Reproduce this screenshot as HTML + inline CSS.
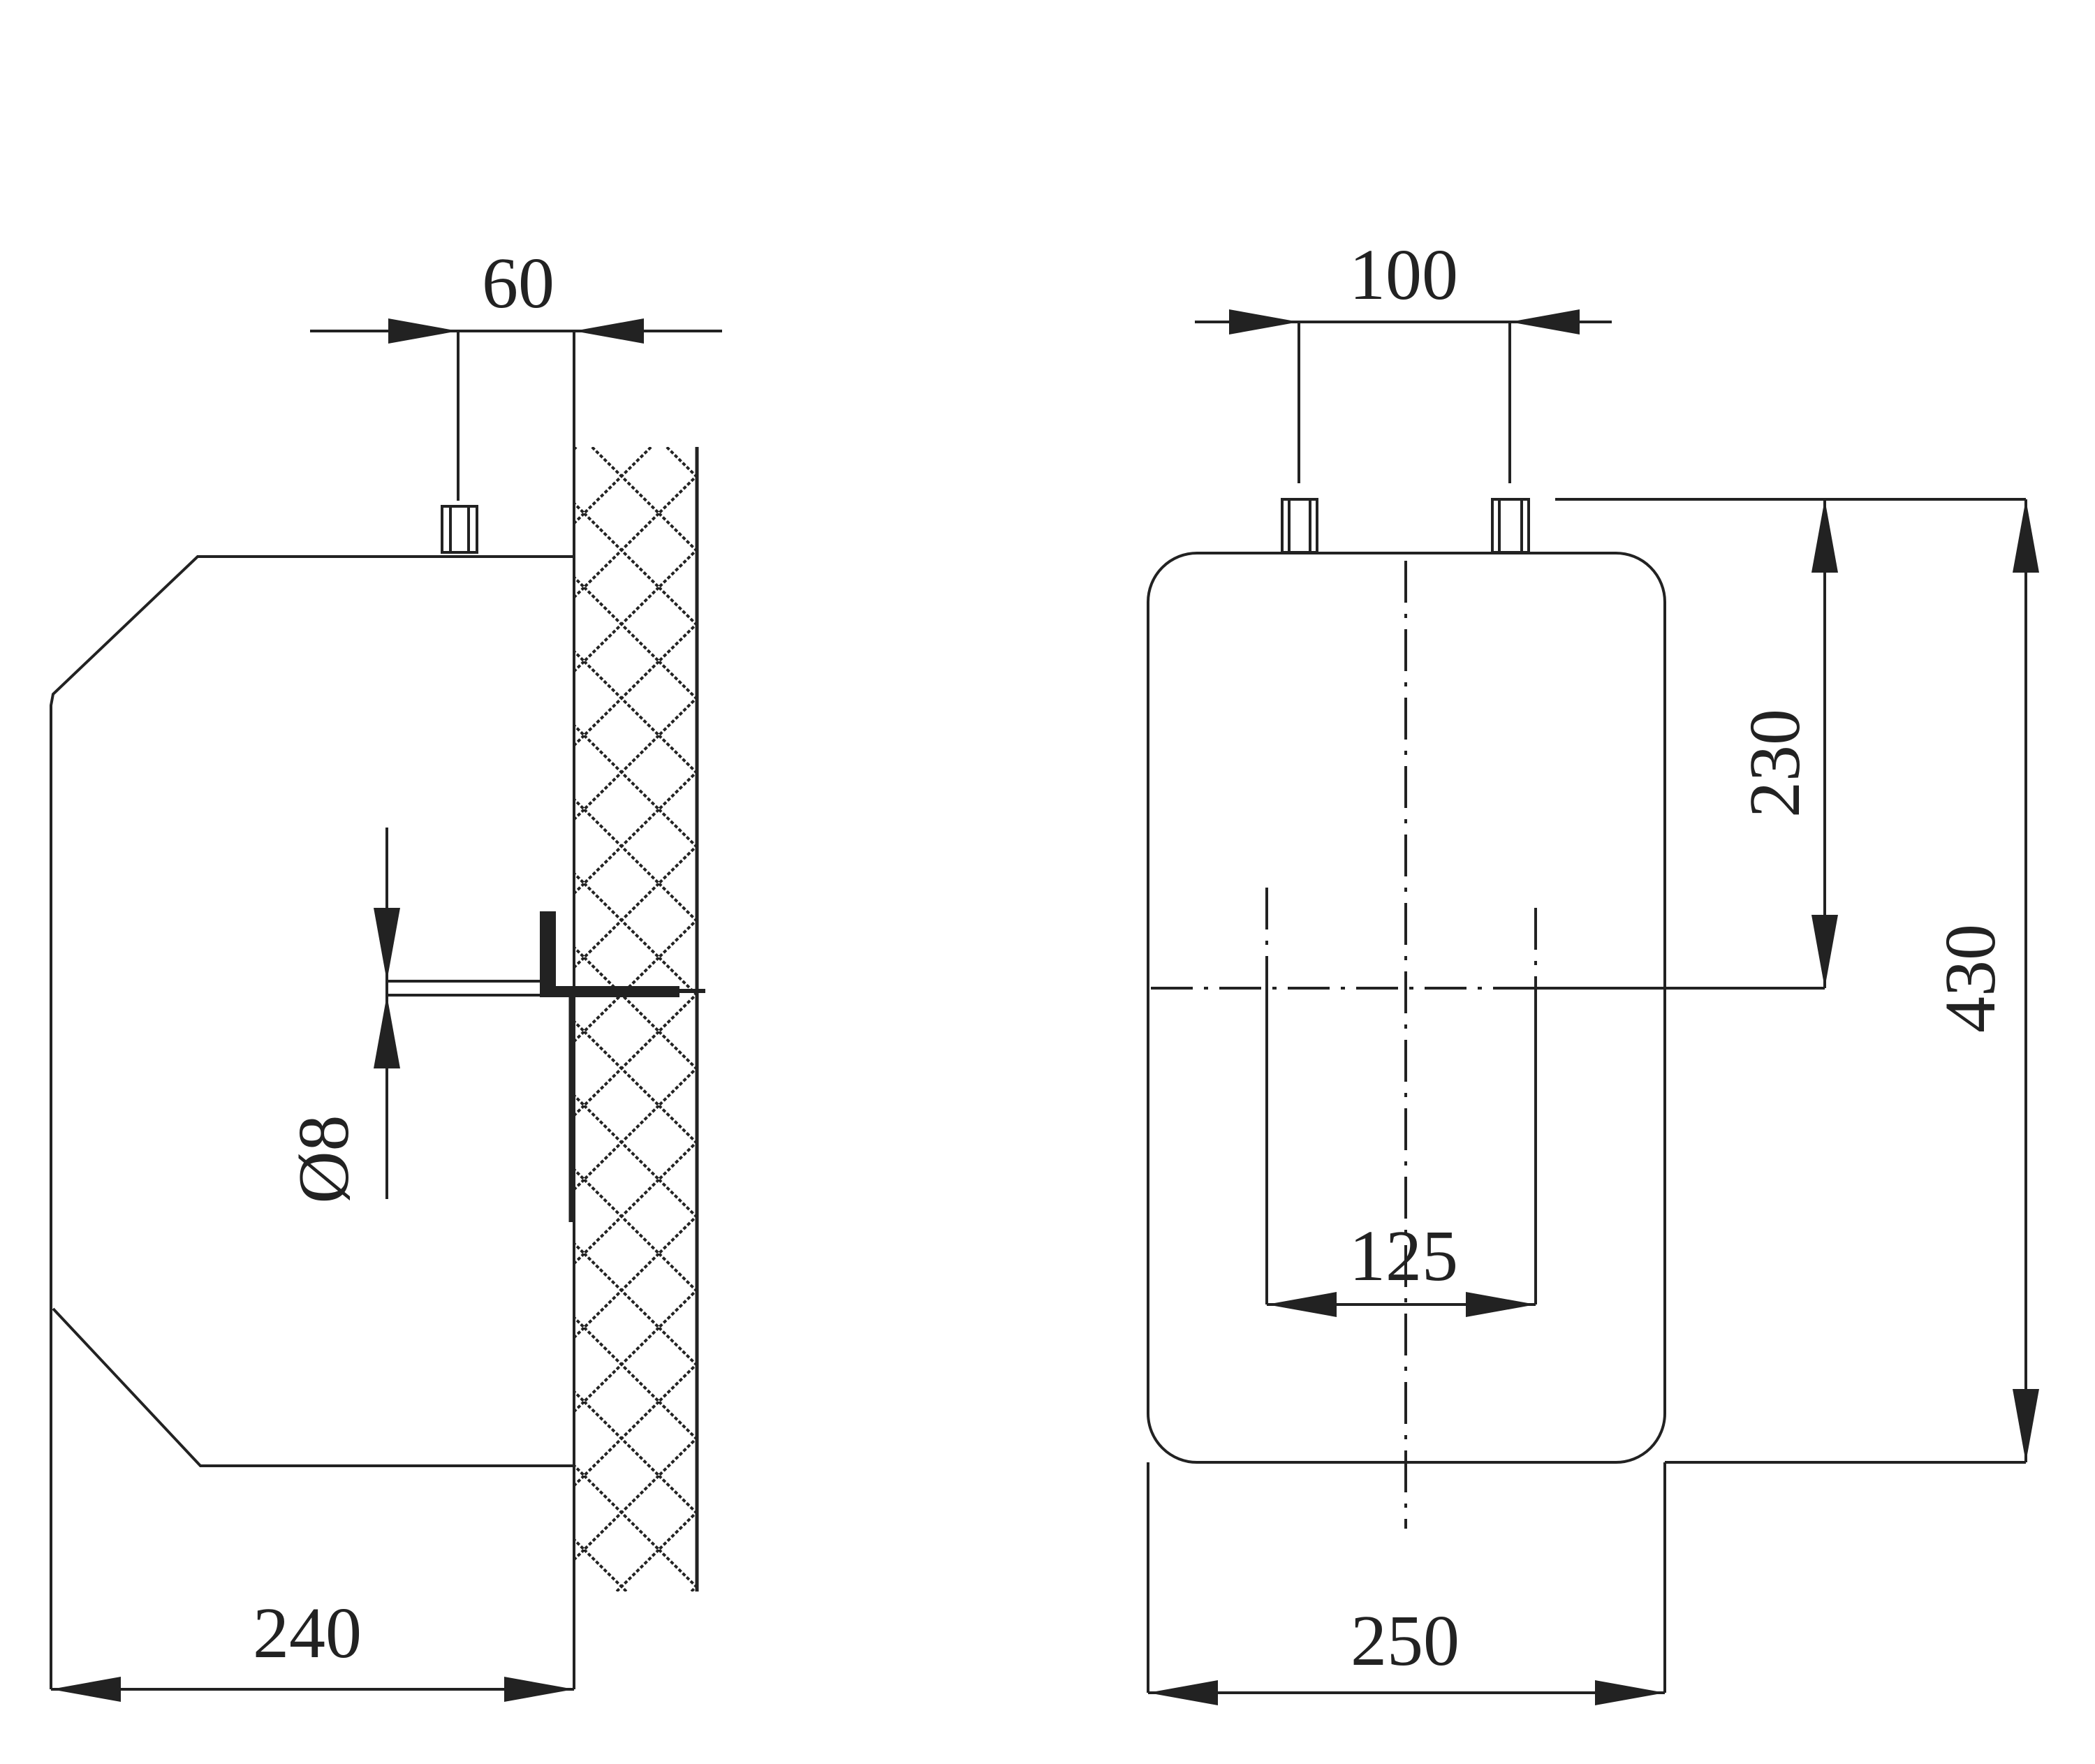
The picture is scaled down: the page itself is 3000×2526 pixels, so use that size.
<!DOCTYPE html>
<html><head><meta charset="utf-8"><style>
html,body{margin:0;padding:0;background:#fff;}
svg{display:block;}
text{font-family:"Liberation Serif",serif;font-size:104px;fill:#222;}
</style></head><body>
<svg width="3000" height="2526" viewBox="0 0 3000 2526" xmlns="http://www.w3.org/2000/svg">
<defs>
<pattern id="h" patternUnits="userSpaceOnUse" x="836.5" y="1159" width="107" height="106">
<path d="M0 0 L107 106 M107 0 L0 106" stroke="#222" stroke-width="4" stroke-dasharray="5 3"/>
</pattern>
</defs>
<g stroke="#222" stroke-width="4" fill="none">
<line x1="444" y1="474" x2="1034" y2="474"/>
<line x1="656" y1="474" x2="656" y2="717"/>
<line x1="822" y1="474" x2="822" y2="2419"/>
<rect x="633" y="725" width="50" height="66"/>
<line x1="645" y1="725" x2="645" y2="791"/><line x1="671" y1="725" x2="671" y2="791"/>
<path d="M822 797 L283 797 L76 994 L73 1010 L73 2419 M76 1874 L287 2099 L822 2099"/>
<rect x="822" y="640" width="176" height="1639" fill="url(#h)" stroke="none"/>
<line x1="998" y1="640" x2="998" y2="2279" stroke-width="5"/>
<line x1="73" y1="2419" x2="822" y2="2419"/>
<line x1="554" y1="1185" x2="554" y2="1717"/>
<line x1="554" y1="1405" x2="776" y2="1405"/>
<line x1="554" y1="1425" x2="776" y2="1425"/>
<line x1="1010" y1="1419" x2="822" y2="1419" stroke-width="6"/>
<line x1="818" y1="1419" x2="818" y2="1750" stroke-width="7"/>
<line x1="1711" y1="461" x2="2308" y2="461"/>
<line x1="1860" y1="461" x2="1860" y2="692"/>
<line x1="2162" y1="461" x2="2162" y2="692"/>
<rect x="1836" y="715" width="50" height="76"/><line x1="1846" y1="715" x2="1846" y2="791"/><line x1="1876" y1="715" x2="1876" y2="791"/>
<rect x="2137" y="715" width="52" height="76"/><line x1="2147" y1="715" x2="2147" y2="791"/><line x1="2179" y1="715" x2="2179" y2="791"/>
<rect x="1644" y="792" width="740" height="1302" rx="70" ry="70"/>
<line x1="1644" y1="2094" x2="1644" y2="2424"/>
<line x1="2384" y1="2094" x2="2384" y2="2424"/>
<line x1="1644" y1="2424" x2="2384" y2="2424"/>
<line x1="2013" y1="803" x2="2013" y2="2189" stroke-dasharray="60 16 6 16"/>
<line x1="1648" y1="1415" x2="2199" y2="1415" stroke-dasharray="60 16 6 16"/>
<line x1="2199" y1="1415" x2="2613" y2="1415"/>
<line x1="1814" y1="1271" x2="1814" y2="1415" stroke-dasharray="60 16 6 16"/>
<line x1="2199" y1="1300" x2="2199" y2="1415" stroke-dasharray="60 16 6 16"/>
<line x1="1814" y1="1415" x2="1814" y2="1868"/>
<line x1="2199" y1="1415" x2="2199" y2="1868"/>
<line x1="1814" y1="1868" x2="2199" y2="1868"/>
<line x1="2227" y1="715" x2="2901" y2="715"/>
<line x1="2613" y1="715" x2="2613" y2="1415"/>
<line x1="2901" y1="715" x2="2901" y2="2094"/>
<line x1="2384" y1="2094" x2="2901" y2="2094"/>
</g>
<g fill="#222" stroke="none">
<rect x="773" y="1305" width="23" height="122"/>
<rect x="773" y="1412" width="200" height="16"/>
<polygon points="656,474 556,456 556,492"/>
<polygon points="822,474 922,456 922,492"/>
<polygon points="1860,461 1760,443 1760,479"/>
<polygon points="2162,461 2262,443 2262,479"/>
<polygon points="73,2419 173,2401 173,2437"/>
<polygon points="822,2419 722,2401 722,2437"/>
<polygon points="1644,2424 1744,2406 1744,2442"/>
<polygon points="2384,2424 2284,2406 2284,2442"/>
<polygon points="1814,1868 1914,1850 1914,1886"/>
<polygon points="2199,1868 2099,1850 2099,1886"/>
<polygon points="2613,715 2594,820 2632,820"/>
<polygon points="2613,1415 2594,1310 2632,1310"/>
<polygon points="2901,715 2882,820 2920,820"/>
<polygon points="2901,2094 2882,1989 2920,1989"/>
<polygon points="554,1405 535,1300 573,1300"/>
<polygon points="554,1425 535,1530 573,1530"/>
</g>
<text x="742" y="440" text-anchor="middle">60</text>
<text x="2010" y="428" text-anchor="middle">100</text>
<text x="440" y="2373" text-anchor="middle">240</text>
<text x="2012" y="2384" text-anchor="middle">250</text>
<text x="2010" y="1833" text-anchor="middle">125</text>
<text transform="translate(2576,1093) rotate(-90)" text-anchor="middle">230</text>
<text transform="translate(2856,1401) rotate(-90)" text-anchor="middle">430</text>
<text transform="translate(498,1660) rotate(-90)" text-anchor="middle">Ø8</text>
</svg>
</body></html>
